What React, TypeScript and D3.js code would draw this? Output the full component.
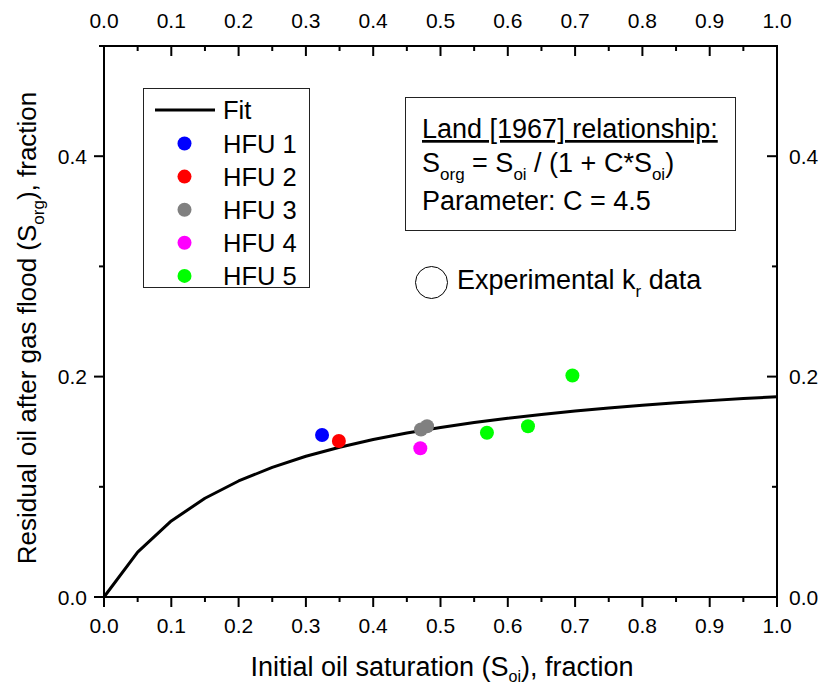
import React from "react";
import * as d3 from "d3";

const fitX = [0, 0.05, 0.1, 0.15, 0.2, 0.25, 0.3, 0.35, 0.4, 0.45, 0.5, 0.55, 0.6, 0.65, 0.7, 0.75, 0.8, 0.85, 0.9, 0.95, 1.0];
const fitY = [0, 0.0408, 0.069, 0.0896, 0.1053, 0.1176, 0.1277, 0.1359, 0.1429, 0.1488, 0.1538, 0.1583, 0.1622, 0.1657, 0.1687, 0.1714, 0.1739, 0.1762, 0.1782, 0.1801, 0.1818];

const seriesNames = ["HFU 1", "HFU 2", "HFU 3", "HFU 4", "HFU 5"];
const seriesColors = ["#0000FF", "#FF0000", "#808080", "#FF00FF", "#00FF00"];
const pointSeries = [0, 1, 2, 2, 3, 4, 4, 4];
const pointX = [0.324, 0.349, 0.471, 0.48, 0.47, 0.569, 0.63, 0.696];
const pointY = [0.147, 0.1416, 0.152, 0.155, 0.135, 0.149, 0.155, 0.201];

const xTicks = [0, 0.1, 0.2, 0.3, 0.4, 0.5, 0.6, 0.7, 0.8, 0.9, 1.0];
const yTicks = [0, 0.2, 0.4];

const FONT = "'Liberation Sans', Arial, sans-serif";

export default function App() {
  const L = 104, R = 777, T = 46, B = 597;
  const x = d3.scaleLinear().domain([0, 1]).range([L, R]);
  const y = d3.scaleLinear().domain([0, 0.5]).range([B, T]);
  const xMinor = d3.range(0, 21).map((i) => i * 0.05);
  const yMinor = d3.range(0, 6).map((i) => i * 0.1);
  const line = d3.line<number>().x((_, i) => x(fitX[i])).y((d) => y(d));
  const fmt = d3.format(".1f");

  return (
    <svg width={824} height={687} style={{ position: "absolute", left: 0, top: 0, background: "#fff" }} fontFamily={FONT}>
      <rect x={0} y={0} width={824} height={687} fill="#fff" />
      {/* ticks */}
      {xMinor.map((v, i) => {
        const major = i % 2 === 0;
        const len = major ? 10 : 5;
        return (
          <g key={"xt" + i} stroke="#000" strokeWidth={2}>
            <line x1={x(v)} x2={x(v)} y1={B} y2={B + len} />
            <line x1={x(v)} x2={x(v)} y1={T} y2={T + len} />
          </g>
        );
      })}
      {yMinor.map((v, i) => {
        const major = i % 2 === 0;
        const len = major ? 10 : 5;
        return (
          <g key={"yt" + i} stroke="#000" strokeWidth={2}>
            <line x1={L} x2={L - len} y1={y(v)} y2={y(v)} />
            <line x1={R} x2={R - len} y1={y(v)} y2={y(v)} />
          </g>
        );
      })}
      {/* frame */}
      <rect x={L} y={T} width={R - L} height={B - T} fill="none" stroke="#000" strokeWidth={2} />
      {/* tick labels */}
      {xTicks.map((v, i) => (
        <g key={"xl" + i} fontSize={21} textAnchor="middle" fill="#000">
          <text x={x(v)} y={633}>{fmt(v)}</text>
          <text x={x(v)} y={28}>{fmt(v)}</text>
        </g>
      ))}
      {yTicks.map((v, i) => (
        <g key={"yl" + i} fontSize={21} fill="#000">
          <text x={87} y={y(v) + 7.5} textAnchor="end">{fmt(v)}</text>
          <text x={789} y={y(v) + 7.5} textAnchor="start">{fmt(v)}</text>
        </g>
      ))}
      {/* fit line */}
      <path d={line(fitY) || ""} fill="none" stroke="#000" strokeWidth={3} strokeLinejoin="round" />
      {/* points */}
      {pointX.map((v, i) => (
        <circle key={"p" + i} cx={x(v)} cy={y(pointY[i])} r={7} fill={seriesColors[pointSeries[i]]} />
      ))}
      {/* legend */}
      <rect x={143.5} y={88.5} width={166} height={199} fill="#fff" stroke="#222" strokeWidth={1} />
      <line x1={155} x2={215} y1={110} y2={110} stroke="#000" strokeWidth={3} />
      <text x={223} y={119} fontSize={25.5}>Fit</text>
      {seriesNames.map((n, i) => {
        const cy = 143.5 + i * 33.1;
        return (
          <g key={"lg" + i}>
            <circle cx={184.5} cy={cy} r={7} fill={seriesColors[i]} />
            <text x={223} y={cy + 9} fontSize={25.5}>{n}</text>
          </g>
        );
      })}
      {/* text box */}
      <rect x={405.5} y={97.5} width={330} height={133} fill="#fff" stroke="#222" strokeWidth={1} />
      <text x={422} y={138} fontSize={27} textDecoration="underline">Land [1967] relationship:</text>
      <text x={422} y={172} fontSize={27}>
        S<tspan fontSize={17} dy={8}>org</tspan>
        <tspan dy={-8}> = S</tspan>
        <tspan fontSize={17} dy={8}>oi</tspan>
        <tspan dy={-8}> / (1 + C*S</tspan>
        <tspan fontSize={17} dy={8}>oi</tspan>
        <tspan dy={-8}>)</tspan>
      </text>
      <text x={422} y={210} fontSize={27}>Parameter: C = 4.5</text>
      <circle cx={431.5} cy={282.5} r={16} fill="none" stroke="#000" strokeWidth={1} />
      <text x={457} y={289} fontSize={27}>
        Experimental k<tspan fontSize={17} dy={8}>r</tspan>
        <tspan dy={-8}> data</tspan>
      </text>
      {/* axis titles */}
      <text x={442} y={676} fontSize={27} textAnchor="middle">
        Initial oil saturation (S<tspan fontSize={16} dy={6}>oi</tspan>
        <tspan dy={-6}>), fraction</tspan>
      </text>
      <text transform="translate(36,328) rotate(-90)" fontSize={26} textAnchor="middle">
        Residual oil after gas flood (S<tspan fontSize={17} dy={8}>org</tspan>
        <tspan dy={-8}>), fraction</tspan>
      </text>
    </svg>
  );
}
